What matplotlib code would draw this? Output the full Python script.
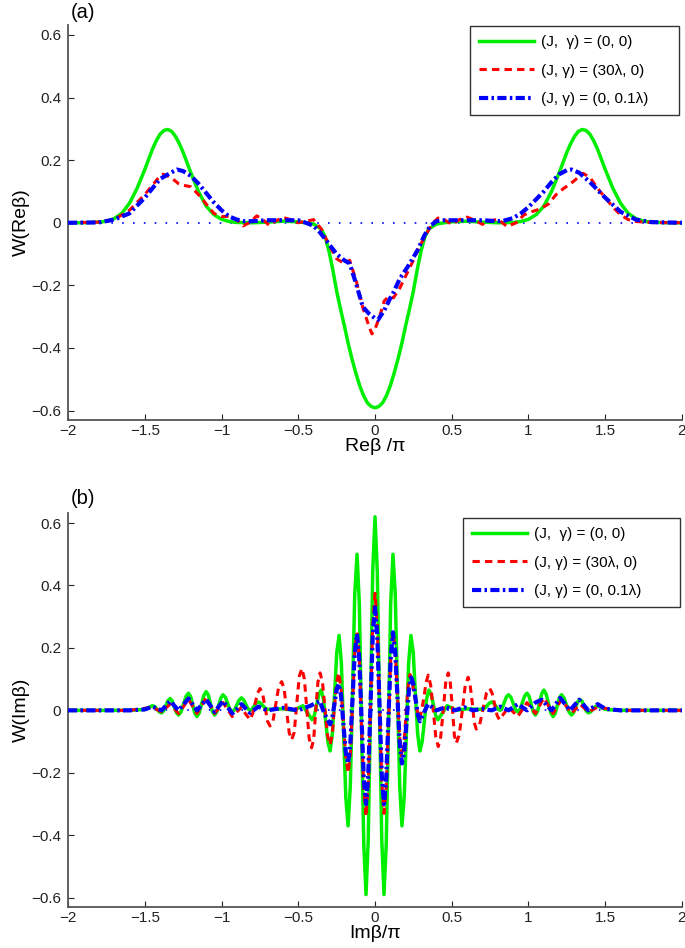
import matplotlib
matplotlib.use("Agg")
import matplotlib.pyplot as plt

plt.rcParams['font.family'] = ['Liberation Sans', 'DejaVu Sans']

# ---------------- Panel (a) data ----------------
xa_green = [-2.0, -1.9, -1.8, -1.75, -1.7, -1.65, -1.6, -1.55, -1.5, -1.45, -1.425, -1.4, -1.375, -1.35,
            -1.325, -1.3, -1.275, -1.25, -1.2, -1.15, -1.1, -1.05, -1.0, -0.95, -0.9, -0.8, -0.7, -0.6,
            -0.5, -0.45, -0.4, -0.35, -0.325, -0.3, -0.275, -0.25, -0.225, -0.2, -0.175, -0.15, -0.125,
            -0.1, -0.075, -0.05, -0.025, 0.0, 0.025, 0.05, 0.075, 0.1, 0.125, 0.15, 0.175, 0.2, 0.225,
            0.25, 0.275, 0.3, 0.325, 0.35, 0.4, 0.45, 0.5, 0.6, 0.7, 0.8, 0.9, 0.95, 1.0, 1.05, 1.1,
            1.15, 1.2, 1.25, 1.275, 1.3, 1.325, 1.35, 1.375, 1.4, 1.425, 1.45, 1.5, 1.55, 1.6, 1.65,
            1.7, 1.75, 1.8, 1.9, 2.0]
ya_green = [0.0, 0.0, 0.002, 0.005, 0.013, 0.03, 0.062, 0.11, 0.17, 0.235, 0.262, 0.283, 0.295, 0.298,
            0.292, 0.276, 0.253, 0.225, 0.16, 0.10, 0.053, 0.026, 0.011, 0.004, 0.001, 0.0, 0.002, 0.005,
            0.003, 0.0, -0.004, -0.02, -0.045, -0.09, -0.15, -0.218, -0.275, -0.328, -0.385, -0.435, -0.48,
            -0.52, -0.552, -0.575, -0.587, -0.591, -0.587, -0.575, -0.552, -0.52, -0.48, -0.435, -0.385, -0.328, -0.275,
            -0.218, -0.15, -0.09, -0.045, -0.02, -0.004, 0.0, 0.003, 0.005, 0.002, 0.0, 0.001, 0.004, 0.011, 0.026, 0.053,
            0.10, 0.16, 0.225, 0.253, 0.276, 0.292, 0.298, 0.295, 0.283, 0.262, 0.235, 0.17, 0.11, 0.062, 0.03,
            0.013, 0.005, 0.002, 0.0, 0.0]

xa_red = [-2.0, -1.8, -1.7, -1.6, -1.5, -1.45, -1.4, -1.38, -1.33, -1.28, -1.25, -1.2, -1.15, -1.1,
          -1.05, -1.0, -0.95, -0.9, -0.86, -0.82, -0.77, -0.73, -0.69, -0.65, -0.6, -0.55, -0.5, -0.45,
          -0.4, -0.35, -0.3, -0.25, -0.2, -0.165, -0.12, -0.08, -0.04, -0.02, 0.0, 0.03, 0.06, 0.09,
          0.12, 0.16, 0.2, 0.25, 0.29, 0.33, 0.37, 0.41, 0.45, 0.5, 0.55, 0.6, 0.65, 0.7, 0.75, 0.8,
          0.86, 0.92, 0.97, 1.02, 1.08, 1.13, 1.18, 1.23, 1.26, 1.3, 1.355, 1.4, 1.45, 1.5, 1.55, 1.6,
          1.65, 1.7, 1.8, 2.0]
ya_red = [0.0, 0.002, 0.01, 0.04, 0.09, 0.12, 0.15, 0.155, 0.145, 0.125, 0.12, 0.115, 0.09, 0.06,
          0.03, 0.02, 0.02, 0.01, -0.01, 0.0, 0.022, 0.01, -0.008, 0.005, 0.017, 0.01, 0.0, 0.005,
          0.01, -0.02, -0.07, -0.115, -0.13, -0.12, -0.19, -0.27, -0.33, -0.355, -0.34, -0.30, -0.25, -0.235,
          -0.24, -0.21, -0.17, -0.12, -0.075, -0.04, -0.005, 0.015, 0.01, -0.005, 0.01, 0.018, 0.008, -0.005, 0.005, 0.012,
          -0.012, 0.0, 0.025, 0.035, 0.045, 0.06, 0.09, 0.11, 0.12, 0.135, 0.158, 0.145, 0.11, 0.08, 0.05, 0.025,
          0.01, 0.004, 0.001, 0.0]

xa_blue = [-2.0, -1.8, -1.7, -1.6, -1.5, -1.4, -1.33, -1.29, -1.25, -1.2, -1.15, -1.1, -1.05, -1.0,
           -0.95, -0.9, -0.85, -0.8, -0.7, -0.6, -0.5, -0.45, -0.4, -0.36, -0.32, -0.25, -0.2, -0.165,
           -0.12, -0.08, -0.04, 0.0, 0.02, 0.06, 0.1, 0.118, 0.16, 0.2, 0.23, 0.28, 0.32, 0.36, 0.4,
           0.45, 0.5, 0.6, 0.7, 0.8, 0.85, 0.9, 0.95, 1.0, 1.05, 1.1, 1.15, 1.2, 1.25, 1.28, 1.33,
           1.4, 1.5, 1.6, 1.7, 1.8, 2.0]
ya_blue = [0.0, 0.001, 0.01, 0.03, 0.08, 0.14, 0.16, 0.17, 0.165, 0.15, 0.125, 0.095, 0.065, 0.04,
           0.02, 0.01, 0.005, 0.005, 0.008, 0.008, 0.008, 0.0, -0.01, -0.03, -0.055, -0.10, -0.12, -0.13,
           -0.20, -0.268, -0.29, -0.305, -0.31, -0.28, -0.24, -0.225, -0.18, -0.15, -0.128, -0.085, -0.042, -0.01, 0.005,
           0.008, 0.008, 0.008, 0.008, 0.005, 0.008, 0.015, 0.03, 0.05, 0.075, 0.10, 0.13, 0.155, 0.168, 0.17, 0.16,
           0.13, 0.08, 0.035, 0.01, 0.002, 0.0]

# ---------------- Panel (b) data ----------------
xb_green = [-2.0, -1.6, -1.5, -1.45, -1.435, -1.405, -1.39, -1.376, -1.349, -1.335, -1.321, -1.294, -1.28,
            -1.264, -1.231, -1.215, -1.201, -1.174, -1.16, -1.145, -1.115, -1.10, -1.086, -1.059, -1.045,
            -1.031, -1.004, -0.99, -0.975, -0.945, -0.93, -0.915, -0.885, -0.87, -0.856, -0.829, -0.815,
            -0.801, -0.774, -0.76, -0.745, -0.715, -0.70, -0.6, -0.53, -0.47, -0.44, -0.41, -0.395, -0.38,
            -0.366, -0.351, -0.336, -0.322, -0.307, -0.2925, -0.278, -0.263, -0.249, -0.234, -0.219, -0.205,
            -0.190, -0.1755, -0.161, -0.146, -0.132, -0.117, -0.102, -0.088, -0.073, -0.0585, -0.044, -0.029,
            -0.015, 0.0, 0.015, 0.029, 0.044, 0.0585, 0.073, 0.088, 0.102, 0.117, 0.132, 0.146, 0.161,
            0.1755, 0.190, 0.205, 0.219, 0.234, 0.249, 0.263, 0.278, 0.2925, 0.307, 0.322, 0.336, 0.351,
            0.366, 0.38, 0.395, 0.41, 0.44, 0.47, 0.53, 0.6, 0.70, 0.715, 0.745, 0.76, 0.774, 0.801, 0.815,
            0.829, 0.856, 0.87, 0.885, 0.915, 0.93, 0.945, 0.975, 0.99, 1.004, 1.031, 1.045, 1.059, 1.086,
            1.10, 1.115, 1.145, 1.16, 1.174, 1.201, 1.215, 1.231, 1.264, 1.28, 1.294, 1.321, 1.335, 1.349,
            1.376, 1.39, 1.405, 1.435, 1.45, 1.5, 1.6, 2.0]
yb_green = [0.0, 0.0, 0.003, 0.015, 0.012, -0.005, -0.008, -0.001, 0.031, 0.038, 0.030, -0.007, -0.015,
            -0.005, 0.045, 0.055, 0.044, -0.009, -0.02, -0.008, 0.048, 0.06, 0.049, -0.004, -0.015,
            -0.005, 0.040, 0.05, 0.042, 0.003, -0.005, 0.002, 0.033, 0.04, 0.034, 0.006, 0.0,
            0.004, 0.023, 0.027, 0.023, 0.007, 0.003, 0.005, 0.0, 0.015, -0.008, -0.03, -0.016, 0.018,
            0.051, 0.065, 0.037, -0.033, -0.101, -0.13, -0.076, 0.055, 0.186, 0.24, 0.151, -0.065,
            -0.281, -0.37, -0.243, 0.065, 0.373, 0.50, 0.341, -0.045, -0.431, -0.59, -0.413, 0.015,
            0.443, 0.62, 0.443, 0.015, -0.413, -0.59, -0.431, -0.045, 0.341, 0.50, 0.373, 0.065, -0.243,
            -0.37, -0.281, -0.065, 0.151, 0.24, 0.186, 0.055, -0.076, -0.13, -0.101, -0.033, 0.037, 0.065,
            0.051, 0.018, -0.016, -0.03, -0.008, 0.015, 0.0, 0.005, 0.003, 0.007, 0.023, 0.027, 0.023, 0.004, 0.0,
            0.008, 0.043, 0.05, 0.042, 0.003, -0.005, 0.004, 0.046, 0.055, 0.045, -0.005, -0.015, -0.003, 0.053,
            0.065, 0.052, -0.007, -0.02, -0.01, 0.04, 0.05, 0.04, -0.005, -0.015, -0.007, 0.028, 0.035, 0.029,
            -0.002, -0.008, -0.005, 0.012, 0.015, 0.003, 0.0, 0.0]

xb_red = [-2.0, -1.6, -1.45, -1.39, -1.335, -1.28, -1.215, -1.16, -1.10, -1.045, -0.99, -0.93, -0.87,
          -0.842, -0.814, -0.797, -0.782, -0.765, -0.749, -0.733, -0.716, -0.700, -0.684, -0.665, -0.646,
          -0.627, -0.608, -0.592, -0.576, -0.559, -0.543, -0.526, -0.510, -0.493, -0.476, -0.460, -0.445,
          -0.429, -0.413, -0.399, -0.386, -0.372, -0.358, -0.342, -0.326, -0.309, -0.293, -0.279, -0.265,
          -0.250, -0.236, -0.221, -0.206, -0.190, -0.175, -0.160, -0.146, -0.132, -0.117, -0.102, -0.088,
          -0.073, -0.0585, -0.044, -0.029, -0.015, 0.0, 0.015, 0.029, 0.044, 0.0585, 0.073, 0.088, 0.102,
          0.117, 0.132, 0.146, 0.161, 0.175, 0.188, 0.2015, 0.215, 0.228, 0.244, 0.259, 0.275, 0.29,
          0.304, 0.318, 0.333, 0.347, 0.363, 0.380, 0.396, 0.412, 0.428, 0.445, 0.461, 0.477, 0.490,
          0.504, 0.517, 0.53, 0.549, 0.569, 0.588, 0.607, 0.62, 0.634, 0.647, 0.66, 0.682, 0.704, 0.726,
          0.748, 0.763, 0.779, 0.795, 0.81, 0.84, 0.87, 0.93, 0.99, 1.045, 1.10, 1.16, 1.215, 1.28,
          1.335, 1.39, 1.45, 1.6, 2.0]
yb_red = [0.0, 0.0, 0.01, -0.005, 0.02, -0.01, 0.035, -0.01, 0.04, -0.01, 0.025, -0.02, 0.01,
          -0.012, -0.03, -0.01, 0.02, 0.055, 0.07, 0.055, 0.01, -0.035, -0.05, -0.035, 0.021,
          0.077, 0.092, 0.07, -0.001, -0.072, -0.094, -0.07, 0.02, 0.11, 0.134, 0.1, 0.007,
          -0.09, -0.12, -0.09, 0.0, 0.09, 0.12, 0.09, 0.005, -0.08, -0.11, -0.08, 0.005,
          0.09, 0.12, 0.07, -0.04, -0.15, -0.2, -0.14, 0.025, 0.19, 0.25, 0.163, -0.045,
          -0.252, -0.34, -0.236, 0.018, 0.27, 0.375, 0.27, 0.023, -0.227, -0.33, -0.245, -0.04, 0.165,
          0.25, 0.19, 0.05, -0.09, -0.15, -0.11, -0.018, 0.075, 0.115, 0.085, 0.043, 0.0, -0.03,
          0.0, 0.04, 0.09, 0.113, 0.08, -0.002, -0.085, -0.116, -0.085, 0.002, 0.09, 0.12, 0.09,
          0.008, -0.08, -0.105, -0.078, 0.0, 0.08, 0.106, 0.08, 0.023, -0.04, -0.06, -0.045, 0.005, 0.055,
          0.07, 0.055, 0.02, -0.015, -0.03, -0.01, 0.01, -0.02, 0.025, -0.01, 0.04, -0.01, 0.035, -0.01,
          0.02, -0.005, 0.01, 0.0, 0.0]

xb_blue = [-2.0, -1.6, -1.5, -1.45, -1.39, -1.335, -1.28, -1.215, -1.16, -1.10, -1.045, -0.99, -0.93,
           -0.87, -0.815, -0.76, -0.7, -0.6, -0.5, -0.42, -0.36, -0.33, -0.293, -0.279, -0.250, -0.236,
           -0.221, -0.191, -0.1755, -0.161, -0.132, -0.117, -0.102, -0.073, -0.0585, -0.044, -0.015, 0.0,
           0.015, 0.044, 0.0585, 0.073, 0.102, 0.117, 0.132, 0.161, 0.1755, 0.191, 0.221, 0.236, 0.250,
           0.279, 0.293, 0.345, 0.40, 0.46, 0.52, 0.58, 0.64, 0.70, 0.76, 0.815, 0.87, 0.93, 0.99, 1.045,
           1.086, 1.15, 1.206, 1.27, 1.33, 1.39, 1.45, 1.5, 1.6, 2.0]
yb_blue = [0.0, 0.0, 0.003, 0.012, 0.0, 0.03, 0.0, 0.038, 0.0, 0.035, -0.005, 0.03, -0.01,
           0.02, -0.008, 0.012, 0.0, 0.008, 0.0, 0.015, 0.03, -0.01, -0.045, -0.026, 0.066, 0.085,
           0.047, -0.132, -0.17, -0.108, 0.183, 0.245, 0.163, -0.218, -0.30, -0.205, 0.236, 0.33,
           0.236, -0.205, -0.30, -0.218, 0.168, 0.25, 0.187, -0.107, -0.17, -0.129, 0.064, 0.105, 0.084,
           -0.014, -0.035, 0.02, 0.0, 0.01, 0.0, 0.01, 0.0, 0.005, 0.0, 0.012, 0.0, 0.02, 0.0, 0.025,
           0.034, 0.0, 0.04, 0.0, 0.034, 0.0, 0.02, 0.005, 0.0, 0.0]

labels = ['(J,  \u03b3) = (0, 0)', '(J, \u03b3) = (30\u03bb, 0)', '(J, \u03b3) = (0, 0.1\u03bb)']
xticks = [-2, -1.5, -1, -0.5, 0, 0.5, 1, 1.5, 2]
xticklabels = ['\u22122', '\u22121.5', '\u22121', '\u22120.5', '0', '0.5', '1', '1.5', '2']
yticks = [-0.6, -0.4, -0.2, 0, 0.2, 0.4, 0.6]
yticklabels = ['\u22120.6', '\u22120.4', '\u22120.2', '0', '0.2', '0.4', '0.6']

GREEN = '#00ee00'
RED = '#ff0000'
BLUE = '#0000ff'

fig = plt.figure(figsize=(6.85, 9.48), dpi=100)
ax_a = fig.add_axes([0.0993, 0.557, 0.8963, 0.4167])
ax_b = fig.add_axes([0.0993, 0.0432, 0.8963, 0.4156])


def style(ax, xlabel, ylabel):
    ax.set_xlim(-2, 2)
    ax.set_ylim(-0.63, 0.632)
    ax.set_xticks(xticks)
    ax.set_xticklabels(xticklabels)
    ax.set_yticks(yticks)
    ax.set_yticklabels(yticklabels)
    for s in ['top', 'right']:
        ax.spines[s].set_visible(False)
    for s in ['left', 'bottom']:
        ax.spines[s].set_color('#555555')
        ax.spines[s].set_linewidth(1.3)
    ax.tick_params(direction='in', length=4, width=0.8, colors='#222222', labelsize=11)
    ax.tick_params(axis='x', pad=3)
    ax.tick_params(axis='y', pad=5)
    ax.set_xlabel(xlabel, fontsize=14, labelpad=0)
    ax.set_ylabel(ylabel, fontsize=14, labelpad=1)


def draw(ax, xg, yg, xr, yr, xbb, ybb):
    ax.axhline(0, color=BLUE, lw=1.2, ls=(0, (1, 5.5)), zorder=1)
    l1, = ax.plot(xg, yg, color=GREEN, lw=2.5, zorder=2)
    l2, = ax.plot(xr, yr, color=RED, lw=2.2, dashes=(2.4, 1.7), zorder=3)
    l3, = ax.plot(xbb, ybb, color=BLUE, lw=3.0, dashes=(2.2, 0.8, 0.6, 0.8), zorder=4)
    return [l1, l2, l3]


h_a = draw(ax_a, xa_green, ya_green, xa_red, ya_red, xa_blue, ya_blue)
h_b = draw(ax_b, xb_green, yb_green, xb_red, yb_red, xb_blue, yb_blue)

style(ax_a, 'Re\u03b2 /\u03c0', 'W(Re\u03b2)')
style(ax_b, 'Im\u03b2/\u03c0', 'W(Im\u03b2)')


def make_legend(ax, handles, x0, top, w):
    leg = ax.legend(handles, labels, loc='upper left', bbox_to_anchor=(x0, top - 0.1, w, 0.1),
                    bbox_transform=fig.transFigure, mode='expand', fontsize=11, handlelength=3.6,
                    labelspacing=0.93, borderpad=0.62, handletextpad=0.45, fancybox=False,
                    frameon=True, borderaxespad=0)
    leg.get_frame().set_edgecolor('black')
    leg.get_frame().set_linewidth(1.0)
    return leg


make_legend(ax_a, h_a, 470 / 685, 1 - 26 / 948, 209 / 685)
make_legend(ax_b, h_b, 463 / 685, 1 - 518 / 948, 217 / 685)

fig.text(83 / 685, 1 - 13 / 948, '(a)', fontsize=14.5, ha='center', va='center')
fig.text(83 / 685, 1 - 498 / 948, '(b)', fontsize=14.5, ha='center', va='center')

fig.savefig('out.png', dpi=100)
